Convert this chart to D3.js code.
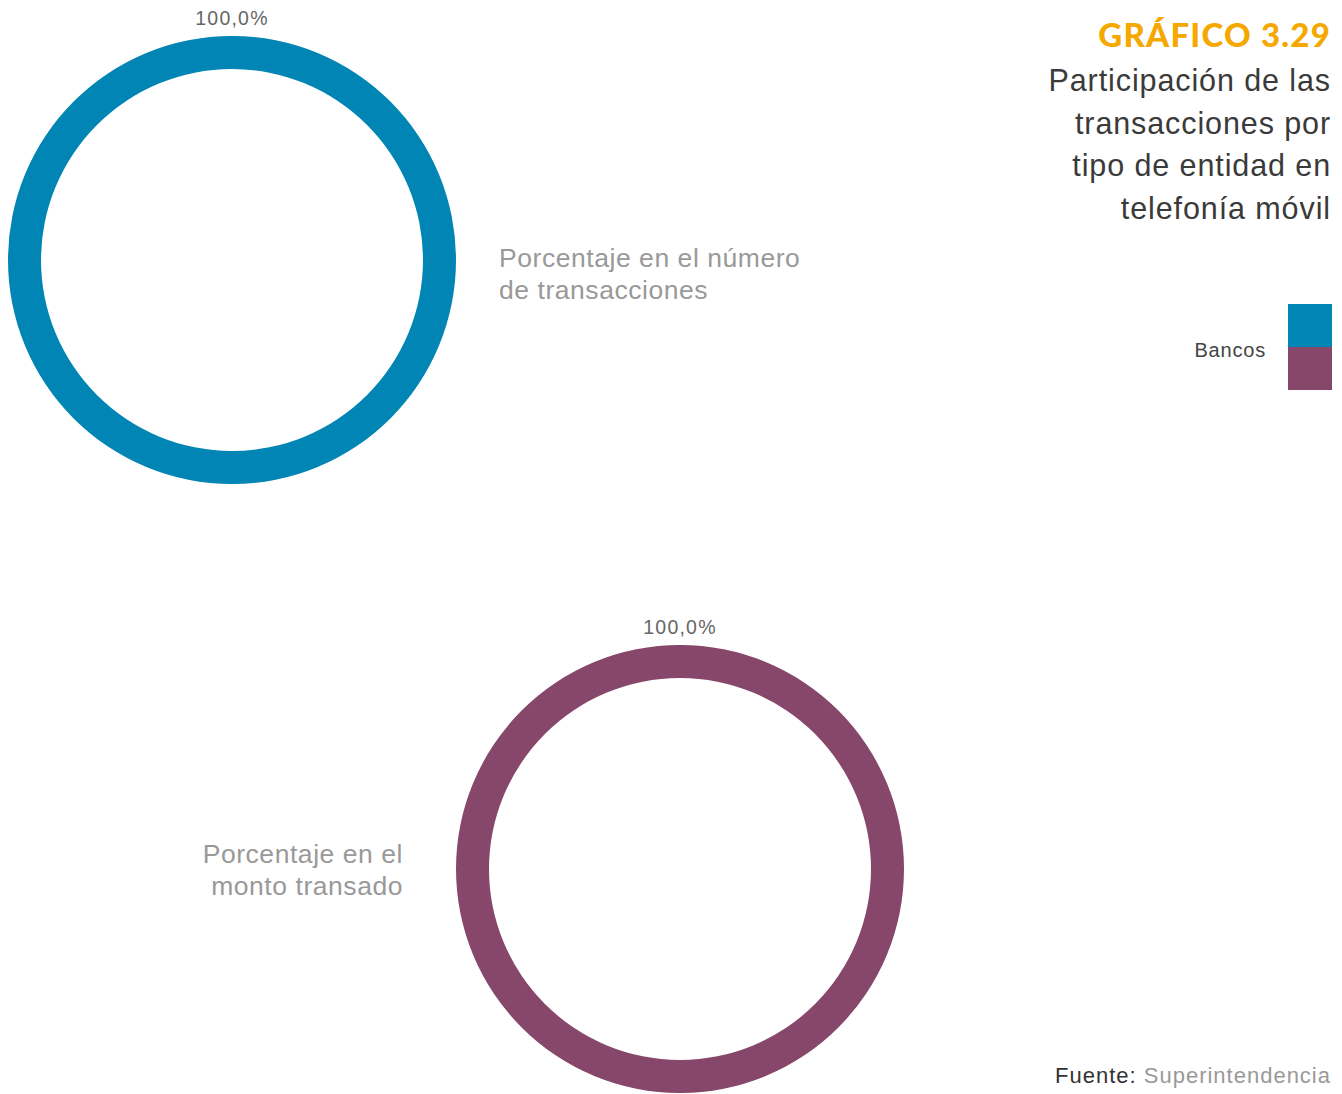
<!DOCTYPE html>
<html><head><meta charset="utf-8">
<script src="https://cdn.jsdelivr.net/npm/d3@7"></script>
<style>body{margin:0;background:#fff}svg{display:block}</style>
</head><body>
<svg id="c" width="1342" height="1094"></svg>
<script>
const metrics = ["Porcentaje en el número de transacciones", "Porcentaje en el monto transado"];
const entities = ["Bancos"];
const valuesNumero = [100.0];
const valuesMonto = [100.0];
const ringColors = ["#0085B5", "#86476B"];

const svg = d3.select("#c");
const font = "'Liberation Sans', Arial, Helvetica, sans-serif";
const fmt = v => d3.format(".1f")(v).replace(".", ",") + "%";

const pie = d3.pie().sort(null).value(d => d);
const arc = d3.arc().innerRadius(191).outerRadius(224);

const donuts = [
  {vals: valuesNumero, cx: 232, cy: 260, color: ringColors[0], label: ["Porcentaje en el número", "de transacciones"], lx: 499, ly: 267, anchor: "start"},
  {vals: valuesMonto, cx: 680, cy: 869, color: ringColors[1], label: ["Porcentaje en el", "monto transado"], lx: 403, ly: 863, anchor: "end"}
];

donuts.forEach(d => {
  const g = svg.append("g").attr("transform", `translate(${d.cx},${d.cy})`);
  const arcs = pie(d.vals);
  g.selectAll("path").data(arcs).join("path").attr("d", arc).attr("fill", d.color);
  g.selectAll("text.v").data(arcs).join("text").attr("class", "v")
    .attr("x", a => { const m = (a.startAngle + a.endAngle) / 2; return d.vals.length === 1 ? 0 : Math.sin(m) * 240; })
    .attr("y", a => { const m = (a.startAngle + a.endAngle) / 2; return d.vals.length === 1 ? -235 : -Math.cos(m) * 240; })
    .attr("text-anchor", "middle")
    .attr("font-family", font).attr("font-size", 19.5).attr("letter-spacing", 1.2).attr("fill", "#666")
    .text(a => fmt(a.data));
  const t = svg.append("text").attr("font-family", font).attr("font-size", 26.5).attr("letter-spacing", 0.55).attr("fill", "#999")
    .attr("text-anchor", d.anchor);
  d.label.forEach((l, i) => t.append("tspan").attr("x", d.lx).attr("y", d.ly + i * 32).text(l));
});

// Title
svg.append("text").attr("x", 1331).attr("y", 47).attr("text-anchor", "end")
  .attr("font-family", "Lato, 'Open Sans', sans-serif").attr("font-weight", 900)
  .attr("font-size", 33).attr("fill", "#F5A800").attr("letter-spacing", 1.2).text("GRÁFICO 3.29");
const sub = ["Participación de las", "transacciones por", "tipo de entidad en", "telefonía móvil"];
svg.append("g").selectAll("text").data(sub).join("text")
  .attr("x", 1331).attr("y", (d, i) => 91 + i * 42.5).attr("text-anchor", "end")
  .attr("font-family", font).attr("font-size", 30.5).attr("letter-spacing", 0.9).attr("fill", "#3a3a3a").text(d => d);

// Legend
const lg = svg.append("g");
lg.selectAll("rect").data(ringColors).join("rect")
  .attr("x", 1288).attr("y", (d, i) => 304 + i * 43).attr("width", 44).attr("height", 43).attr("fill", d => d);
lg.append("text").attr("x", 1266).attr("y", 357).attr("text-anchor", "end")
  .attr("font-family", font).attr("font-size", 20).attr("letter-spacing", 0.8).attr("fill", "#444").text(entities[0]);

// Source
const src = svg.append("text").attr("x", 1331).attr("y", 1083).attr("text-anchor", "end")
  .attr("font-family", font).attr("font-size", 22).attr("letter-spacing", 1.0);
src.append("tspan").attr("fill", "#333").text("Fuente: ");
src.append("tspan").attr("fill", "#999").text("Superintendencia");
</script>
</body></html>
